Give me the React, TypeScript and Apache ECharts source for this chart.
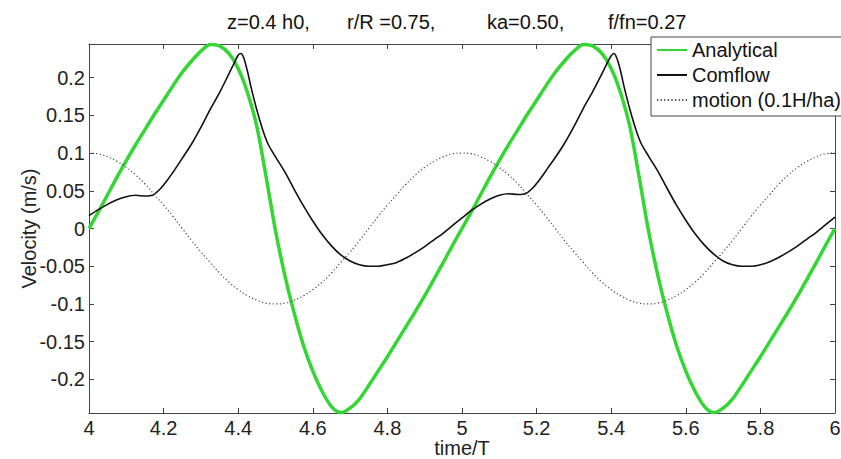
import React, { useEffect, useRef } from "react";
import * as echarts from "echarts";

// ---- Data ----
const timeGrid = [
  4.0, 4.025, 4.05, 4.075, 4.1, 4.125, 4.15, 4.175, 4.2, 4.225, 4.25, 4.275, 4.3, 4.325, 4.35, 4.375,
  4.4, 4.425, 4.45, 4.475, 4.5, 4.525, 4.55, 4.575, 4.6, 4.625, 4.65, 4.675, 4.7, 4.725, 4.75, 4.775,
  4.8, 4.825, 4.85, 4.875, 4.9, 4.925, 4.95, 4.975,
  5.0, 5.025, 5.05, 5.075, 5.1, 5.125, 5.15, 5.175, 5.2, 5.225, 5.25, 5.275, 5.3, 5.325, 5.35, 5.375,
  5.4, 5.425, 5.45, 5.475, 5.5, 5.525, 5.55, 5.575, 5.6, 5.625, 5.65, 5.675, 5.7, 5.725, 5.75, 5.775,
  5.8, 5.825, 5.85, 5.875, 5.9, 5.925, 5.95, 5.975, 6.0,
];

const analyticalVel = [
  0.0, 0.022, 0.045, 0.068, 0.09, 0.111, 0.131, 0.151, 0.17, 0.189, 0.207, 0.222, 0.235, 0.244, 0.242, 0.232,
  0.212, 0.18, 0.135, 0.068, -0.003, -0.062, -0.112, -0.155, -0.189, -0.216, -0.236, -0.244, -0.238, -0.226, -0.208, -0.189,
  -0.17, -0.15, -0.13, -0.11, -0.089, -0.067, -0.045, -0.022,
  0.0, 0.022, 0.045, 0.068, 0.09, 0.111, 0.131, 0.151, 0.17, 0.189, 0.207, 0.222, 0.235, 0.244, 0.242, 0.232,
  0.212, 0.18, 0.135, 0.068, -0.003, -0.062, -0.112, -0.155, -0.189, -0.216, -0.236, -0.244, -0.238, -0.226, -0.208, -0.189,
  -0.17, -0.15, -0.13, -0.11, -0.089, -0.067, -0.045, -0.022, 0.0,
];

const motionVel = [
  0.1, 0.099, 0.095, 0.089, 0.081, 0.071, 0.059, 0.045, 0.031, 0.016, 0.0, -0.016, -0.031, -0.045, -0.059, -0.071,
  -0.081, -0.089, -0.095, -0.099, -0.1, -0.099, -0.095, -0.089, -0.081, -0.071, -0.059, -0.045, -0.031, -0.016, 0.0, 0.016,
  0.031, 0.045, 0.059, 0.071, 0.081, 0.089, 0.095, 0.099,
  0.1, 0.099, 0.095, 0.089, 0.081, 0.071, 0.059, 0.045, 0.031, 0.016, 0.0, -0.016, -0.031, -0.045, -0.059, -0.071,
  -0.081, -0.089, -0.095, -0.099, -0.1, -0.099, -0.095, -0.089, -0.081, -0.071, -0.059, -0.045, -0.031, -0.016, 0.0, 0.016,
  0.031, 0.045, 0.059, 0.071, 0.081, 0.089, 0.095, 0.099, 0.1,
];

const comflowTime = [
  4.0, 4.025, 4.05, 4.075, 4.1, 4.125, 4.15, 4.17, 4.19, 4.21, 4.23, 4.25, 4.275, 4.3, 4.325, 4.35,
  4.375, 4.39, 4.4, 4.407, 4.415, 4.425, 4.435, 4.45, 4.465, 4.48, 4.5, 4.525, 4.55, 4.575, 4.6, 4.625,
  4.65, 4.675, 4.7, 4.725, 4.75, 4.775, 4.8, 4.825, 4.85, 4.875, 4.9, 4.925, 4.95, 4.975,
  5.0, 5.025, 5.05, 5.075, 5.1, 5.125, 5.15, 5.17, 5.19, 5.21, 5.23, 5.25, 5.275, 5.3, 5.325, 5.35,
  5.375, 5.39, 5.4, 5.407, 5.415, 5.425, 5.435, 5.45, 5.465, 5.48, 5.5, 5.525, 5.55, 5.575, 5.6, 5.625,
  5.65, 5.675, 5.7, 5.725, 5.75, 5.775, 5.8, 5.825, 5.85, 5.875, 5.9, 5.925, 5.95, 5.975, 6.0,
];

const comflowVel = [
  0.017, 0.025, 0.032, 0.038, 0.042, 0.044, 0.043, 0.044, 0.052, 0.064, 0.078, 0.093, 0.112, 0.134, 0.158, 0.18,
  0.205, 0.22, 0.23, 0.232, 0.226, 0.208, 0.186, 0.157, 0.132, 0.112, 0.095, 0.075, 0.052, 0.03, 0.01, -0.008,
  -0.023, -0.035, -0.043, -0.048, -0.05, -0.05, -0.048, -0.045, -0.039, -0.032, -0.024, -0.015, -0.006, 0.004,
  0.014, 0.024, 0.032, 0.039, 0.044, 0.046, 0.045, 0.046, 0.054, 0.066, 0.08, 0.094, 0.113, 0.135, 0.159, 0.181,
  0.205, 0.22, 0.229, 0.232, 0.226, 0.209, 0.187, 0.158, 0.133, 0.113, 0.096, 0.076, 0.053, 0.031, 0.011, -0.007,
  -0.022, -0.034, -0.043, -0.048, -0.05, -0.05, -0.048, -0.044, -0.038, -0.031, -0.023, -0.014, -0.005, 0.005, 0.015,
];

const yTicks = [-0.2, -0.15, -0.1, -0.05, 0, 0.05, 0.1, 0.15, 0.2];
const titleParts = ["z=0.4 h0,", "r/R =0.75,", "ka=0.50,", "f/fn=0.27"];
const seriesNames = ["Analytical", "Comflow", "motion (0.1H/ha)"];

const FONT = "'Liberation Sans', Arial, Helvetica, sans-serif";

export default function App() {
  const ref = useRef<HTMLDivElement>(null);

  useEffect(() => {
    if (!ref.current) return;
    const chart = echarts.init(ref.current, null, { renderer: "svg" });

    const pair = (xs: number[], ys: number[]) => xs.map((x, i) => [x, ys[i]]);
    const axisColor = "#444";
    const yFmt = (v: number) => String(parseFloat(Number(v).toFixed(2)));
    const xFmt = (v: number) => String(parseFloat(Number(v).toFixed(1)));
    const titleX = [227, 347, 487, 608];

    const option: any = {
      animation: false,
      backgroundColor: "#fff",
      grid: {
        left: 89,
        right: 6,
        top: 44,
        bottom: 46,
        containLabel: false,
        outerBoundsMode: "none",
      },
      graphic: titleParts.map((t, i) => ({
        type: "text",
        x: titleX[i],
        y: 22,
        style: {
          text: t,
          fontSize: 20,
          fontFamily: FONT,
          fill: "#111",
          align: "left",
          verticalAlign: "middle",
        },
      })),
      legend: {
        orient: "vertical",
        left: 651,
        top: 37,
        padding: [3, 14, 6, 5],
        itemGap: 5,
        itemWidth: 30,
        itemHeight: 20,
        backgroundColor: "#fff",
        borderColor: axisColor,
        borderWidth: 1,
        borderRadius: 0,
        itemStyle: { opacity: 0 },
        textStyle: { fontSize: 20, color: "#111", fontFamily: FONT },
        data: seriesNames,
      },
      xAxis: [
        {
          type: "value",
          position: "bottom",
          min: 4,
          max: 6,
          interval: 0.2,
          axisLine: { show: true, onZero: false, lineStyle: { color: axisColor, width: 1 } },
          axisTick: { show: true, inside: true, length: 5, lineStyle: { color: axisColor } },
          axisLabel: {
            fontSize: 20,
            lineHeight: 18,
            color: "#222",
            fontFamily: FONT,
            margin: 6,
            formatter: xFmt,
            showMinLabel: true,
            showMaxLabel: true,
          },
          splitLine: { show: false },
          name: "time/T",
          nameLocation: "middle",
          nameGap: 26,
          nameMoveOverlap: false,
          nameTextStyle: { fontSize: 20, lineHeight: 18, color: "#222", fontFamily: FONT },
        },
        {
          type: "value",
          position: "top",
          min: 4,
          max: 6,
          interval: 0.2,
          axisLine: { show: true, onZero: false, lineStyle: { color: axisColor, width: 1 } },
          axisTick: { show: true, inside: true, length: 5, lineStyle: { color: axisColor } },
          axisLabel: { show: false },
          splitLine: { show: false },
        },
      ],
      yAxis: [
        {
          type: "value",
          position: "left",
          min: -0.2445,
          max: 0.2445,
          axisLine: { show: true, onZero: false, lineStyle: { color: axisColor, width: 1 } },
          axisTick: {
            show: true,
            inside: true,
            length: 5,
            customValues: yTicks,
            lineStyle: { color: axisColor },
          },
          axisLabel: {
            customValues: yTicks,
            fontSize: 20,
            color: "#222",
            fontFamily: FONT,
            margin: 4,
            formatter: yFmt,
          },
          splitLine: { show: false },
          name: "Velocity (m/s)",
          nameLocation: "middle",
          nameGap: 50,
          nameRotate: 90,
          nameMoveOverlap: false,
          nameTextStyle: { fontSize: 20, color: "#222", fontFamily: FONT },
        },
        {
          type: "value",
          position: "right",
          min: -0.2445,
          max: 0.2445,
          axisLine: { show: true, onZero: false, lineStyle: { color: axisColor, width: 1 } },
          axisTick: {
            show: true,
            inside: true,
            length: 5,
            customValues: yTicks,
            lineStyle: { color: axisColor },
          },
          axisLabel: { show: false, customValues: yTicks },
          splitLine: { show: false },
        },
      ],
      series: [
        {
          name: seriesNames[0],
          type: "line",
          xAxisIndex: 0,
          yAxisIndex: 0,
          data: pair(timeGrid, analyticalVel),
          smooth: 0.3,
          symbol: "none",
          lineStyle: { color: "#33d633", width: 3.5 },
          itemStyle: { color: "#33d633" },
          clip: true,
        },
        {
          name: seriesNames[1],
          type: "line",
          xAxisIndex: 0,
          yAxisIndex: 0,
          data: pair(comflowTime, comflowVel),
          smooth: 0.3,
          symbol: "none",
          lineStyle: { color: "#111", width: 1.6 },
          itemStyle: { color: "#111" },
          clip: true,
        },
        {
          name: seriesNames[2],
          type: "line",
          xAxisIndex: 0,
          yAxisIndex: 0,
          data: pair(timeGrid, motionVel),
          smooth: 0.5,
          symbol: "none",
          lineStyle: { color: "#444", width: 1.2, type: [1.2, 2.4] },
          itemStyle: { color: "#444" },
          clip: true,
        },
      ],
    };

    chart.setOption(option);
    return () => chart.dispose();
  }, []);

  return (
    <div
      ref={ref}
      style={{ position: "fixed", left: 0, top: 0, width: 841, height: 459, background: "#fff" }}
    />
  );
}
